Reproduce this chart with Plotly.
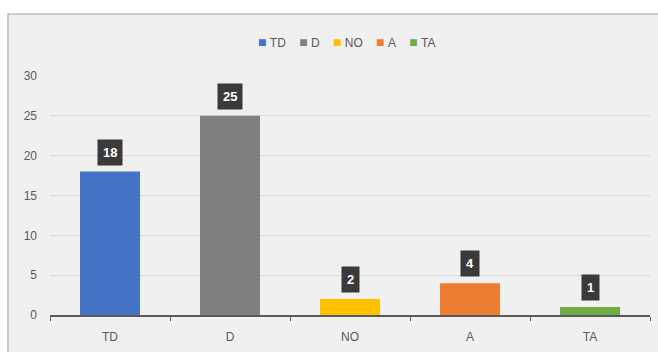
import plotly.graph_objects as go

categories = ["TD", "D", "NO", "A", "TA"]
values = [18, 25, 2, 4, 1]
colors = ["#4472C4", "#7F7F7F", "#FFC000", "#ED7D31", "#70AD47"]
y_ticks = [0, 5, 10, 15, 20, 25, 30]

fig = go.Figure()
for cat, val, col in zip(categories, values, colors):
    fig.add_trace(go.Bar(
        x=[cat], y=[val], name=cat, marker=dict(color=col, line=dict(width=0)),
        width=0.5, showlegend=False,
    ))
    fig.add_annotation(
        x=cat, y=val, text=f"<b>{val}</b>", showarrow=False,
        yanchor="bottom", yshift=6,
        font=dict(family="Arial", size=13, color="white"),
        bgcolor="#3A3A3A", borderpad=5,
    )

# compact legend row: coloured square + series name
legend_text = "&nbsp;&nbsp;&nbsp;&nbsp;".join(
    f"<span style='color:{col};font-size:14px'>■</span>&nbsp;{cat}"
    for cat, col in zip(categories, colors)
)
fig.add_annotation(
    xref="paper", yref="paper", x=0.495, y=(315 - 42) / 239,
    xanchor="center", yanchor="middle", showarrow=False,
    text=legend_text, font=dict(family="Arial", size=12, color="#595959"),
)

# chart frame behind everything
fig.add_shape(type="rect", xref="paper", yref="paper",
              x0=-0.07, x1=1.2, y0=-0.3, y1=1.259,
              fillcolor="#F0F0F0", line=dict(color="#BDBDBD", width=1.5),
              layer="below")

fig.update_layout(
    width=658, height=352,
    margin=dict(l=50, r=8, t=76, b=37),
    paper_bgcolor="white", plot_bgcolor="rgba(0,0,0,0)",
    barmode="overlay",
    showlegend=False,
    font=dict(family="Arial", size=11, color="#595959"),
)
fig.update_xaxes(
    categoryorder="array", categoryarray=categories,
    showline=True, linecolor="#595959", linewidth=1.5,
    ticks="outside", tickson="boundaries", ticklen=4, tickcolor="#595959",
    showgrid=False, tickfont=dict(size=12, color="#595959"),
    ticklabelstandoff=10,
)
fig.update_yaxes(
    range=[0, 30], tickvals=y_ticks, showgrid=True, gridcolor="#D9D9D9",
    gridwidth=1, zeroline=False, showline=False,
    tickfont=dict(size=12, color="#595959"), ticks="", ticklabelstandoff=12,
)
fig.write_html("out.html")
